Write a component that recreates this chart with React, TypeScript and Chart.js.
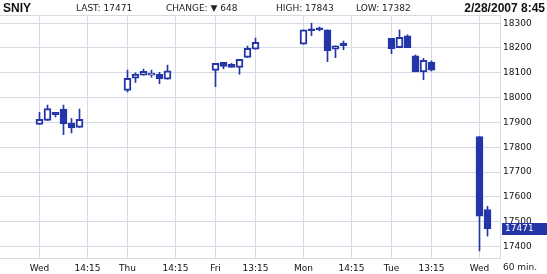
import React, { useEffect, useRef } from "react";
import { Chart, registerables } from "chart.js";

Chart.register(...registerables);

// slot index of each 60-min candle (11 slots per trading day)
const SLOTS = [0, 1, 2, 3, 4, 5, 11, 12, 13, 14, 15, 16, 22, 23, 24, 25, 26, 27, 33, 34, 35, 36, 37, 38, 44, 45, 46, 47, 48, 49, 55, 56];
const OPENS = [17892, 17908, 17941, 17954, 17897, 17880, 18029, 18078, 18090, 18090, 18094, 18074, 18110, 18142, 18134, 18122, 18162, 18195, 18215, 18277, 18281, 18273, 18195, 18220, 18239, 18201, 18249, 18168, 18104, 18143, 17843, 17549];
const HIGHS = [17941, 17970, 17941, 17970, 17916, 17954, 18111, 18100, 18115, 18111, 18102, 18131, 18138, 18142, 18138, 18154, 18208, 18240, 18273, 18300, 18285, 18273, 18209, 18228, 18239, 18273, 18253, 18172, 18158, 18148, 17843, 17562];
const LOWS = [17892, 17908, 17922, 17851, 17858, 17880, 18023, 18061, 18090, 18082, 18056, 18074, 18044, 18116, 18122, 18094, 18162, 18195, 18215, 18250, 18269, 18145, 18161, 18193, 18177, 18201, 18201, 18104, 18072, 18107, 17382, 17442];
const CLOSES = [17912, 17956, 17931, 17894, 17878, 17912, 18078, 18095, 18106, 18099, 18076, 18108, 18138, 18126, 18122, 18154, 18199, 18223, 18273, 18270, 18273, 18189, 18209, 18209, 18197, 18243, 18201, 18104, 18150, 18111, 17522, 17471];

const X_TICK_POS = [0, 6, 11, 17, 22, 27, 33, 39, 44, 49, 55];
const X_TICK_LABELS = ["Wed", "14:15", "Thu", "14:15", "Fri", "13:15", "Mon", "14:15", "Tue", "13:15", "Wed"];
const Y_TICKS = [17400, 17500, 17600, 17700, 17800, 17900, 18000, 18100, 18200, 18300];

const SYMBOL = "SNIY";
const LAST_TEXT = "LAST: 17471";
const CHANGE_TEXT = "CHANGE: \u25BC 648";
const HIGH_TEXT = "HIGH: 17843";
const LOW_TEXT = "LOW: 17382";
const DATE_TEXT = "2/28/2007 8:45";
const LAST_VALUE = 17471;
const INTERVAL_LABEL = "60 min.";

const BLUE = "#2335a8";
const GRID = "#d3dbe4";
const SMALL_FONT = "9px 'DejaVu Sans'";

const overlay = {
  id: "overlay",
  beforeDatasetsDraw(chart: any) {
    const { ctx, chartArea } = chart;
    ctx.save();
    ctx.strokeStyle = GRID;
    ctx.lineWidth = 1;
    ctx.beginPath();
    ctx.moveTo(chartArea.left, Math.round(chartArea.top) + 0.5);
    ctx.lineTo(chartArea.right, Math.round(chartArea.top) + 0.5);
    ctx.stroke();
    ctx.restore();
  },
  afterDraw(chart: any) {
    const { ctx, chartArea, scales } = chart;
    ctx.save();
    // header
    ctx.fillStyle = "#111";
    ctx.textBaseline = "alphabetic";
    ctx.font = "bold 12px 'Liberation Sans'";
    ctx.textAlign = "left";
    ctx.fillText(SYMBOL, 3, 12);
    ctx.textAlign = "right";
    ctx.fillText(DATE_TEXT, 545, 12);
    ctx.textAlign = "left";
    ctx.font = SMALL_FONT;
    ctx.fillStyle = "#222";
    ctx.fillText(LAST_TEXT, 76, 11);
    ctx.fillText(CHANGE_TEXT, 166, 11);
    ctx.fillText(HIGH_TEXT, 276, 11);
    ctx.fillText(LOW_TEXT, 356, 11);
    // interval label
    ctx.textBaseline = "middle";
    ctx.fillText(INTERVAL_LABEL, 503, 268);
    // last value box
    const y = scales.y.getPixelForValue(LAST_VALUE);
    ctx.fillStyle = BLUE;
    ctx.fillRect(chartArea.right + 2, Math.round(y) - 6, 47, 12);
    ctx.fillStyle = "#fff";
    ctx.fillText(String(LAST_VALUE), chartArea.right + 5, Math.round(y));
    ctx.restore();
  },
};

export default function App() {
  const ref = useRef<HTMLCanvasElement | null>(null);
  useEffect(() => {
    document.body.style.margin = "0";
    const bodyData = SLOTS.map((s, i) => ({ x: s, y: [OPENS[i], CLOSES[i]] }));
    const wickData = SLOTS.map((s, i) => ({ x: s, y: [LOWS[i], HIGHS[i]] }));
    const bodyBg = SLOTS.map((_, i) => (CLOSES[i] < OPENS[i] ? BLUE : "#ffffff"));
    const chart = new Chart(ref.current as HTMLCanvasElement, {
      type: "bar",
      data: {
        datasets: [
          {
            label: "body",
            data: bodyData as any,
            backgroundColor: bodyBg,
            borderColor: BLUE,
            borderWidth: 2,
            borderSkipped: false,
            barThickness: 7,
            grouped: false,
            order: 0,
          } as any,
          {
            label: "wick",
            data: wickData as any,
            backgroundColor: BLUE,
            borderWidth: 0,
            barThickness: 1,
            grouped: false,
            order: 1,
          } as any,
        ],
      },
      options: {
        animation: false,
        responsive: false,
        layout: { padding: { top: 15, left: 0, right: 0, bottom: 0 } },
        plugins: { legend: { display: false }, tooltip: { enabled: false } },
        scales: {
          x: {
            type: "linear",
            min: -4.9375,
            max: 57.5625,
            offset: false,
            grid: { color: GRID, offset: false, drawTicks: false },
            border: { display: true, color: GRID },
            afterBuildTicks: (scale: any) => {
              scale.ticks = X_TICK_POS.map((v) => ({ value: v }));
            },
            afterFit: (scale: any) => {
              scale.height = 16;
            },
            ticks: {
              autoSkip: false,
              maxRotation: 0,
              padding: 5,
              color: "#111",
              font: { family: "'DejaVu Sans'", size: 9 },
              callback: (v: any) => {
                const k = X_TICK_POS.indexOf(Number(v));
                return k >= 0 ? X_TICK_LABELS[k] : "";
              },
            },
          },
          y: {
            type: "linear",
            position: "right",
            min: 17353.6,
            max: 18333,
            grid: { color: GRID, drawTicks: false },
            border: { display: true, color: GRID },
            afterBuildTicks: (scale: any) => {
              scale.ticks = Y_TICKS.map((v) => ({ value: v }));
            },
            afterFit: (scale: any) => {
              scale.width = 47;
            },
            ticks: {
              padding: 3,
              color: "#111",
              font: { family: "'DejaVu Sans'", size: 9 },
              callback: (v: any) => String(v),
            },
          },
        },
      } as any,
      plugins: [overlay],
    });
    return () => chart.destroy();
  }, []);
  return (
    <div style={{ width: 547, height: 274, background: "#fff" }}>
      <canvas ref={ref} width={547} height={274} />
    </div>
  );
}
